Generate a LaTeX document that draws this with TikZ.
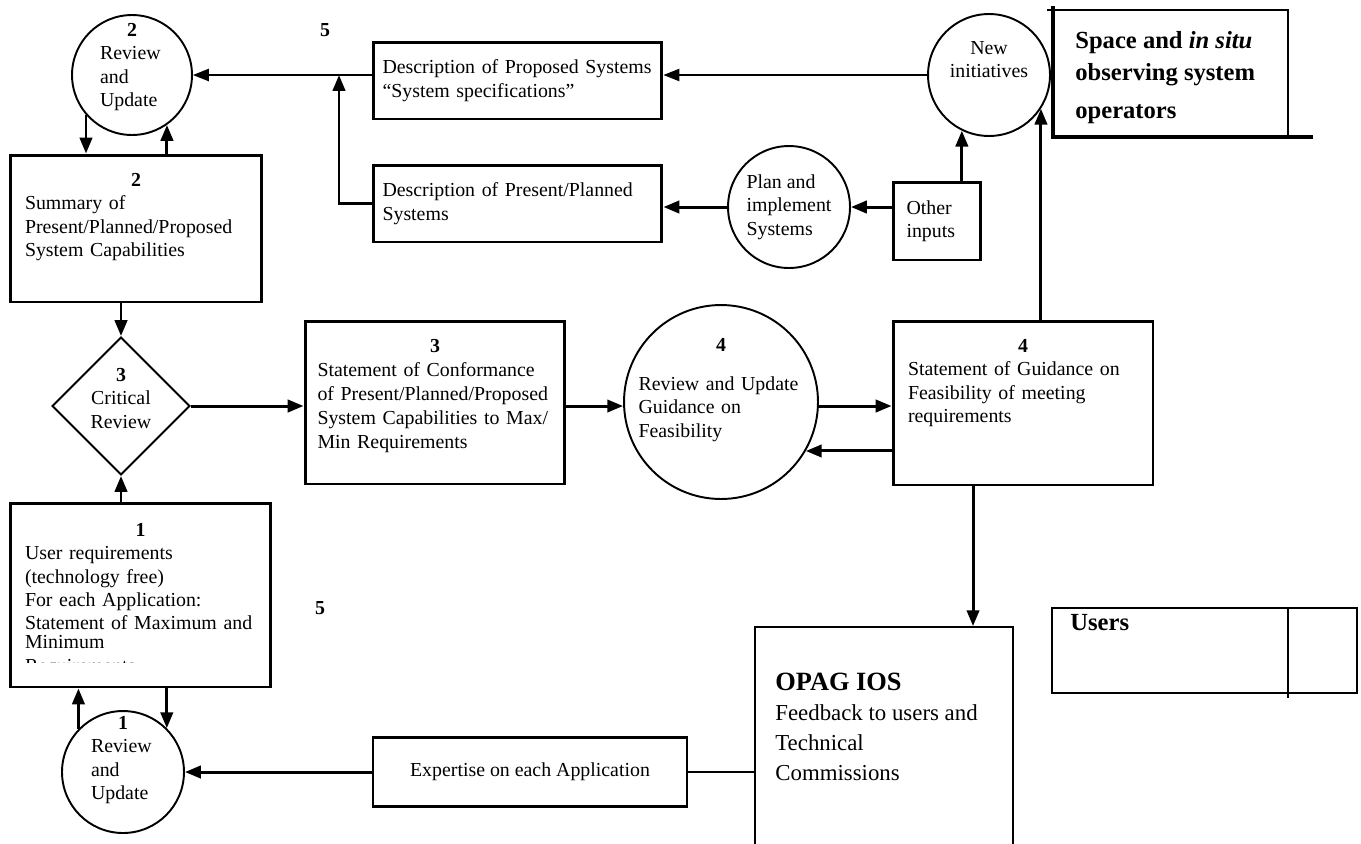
\documentclass[tikz,border=0pt]{standalone}
\usepackage{fontspec}
\setmainfont{Liberation Serif}
\usepackage{tikz}
\usetikzlibrary{shapes.geometric,arrows.meta,positioning,calc}
\newcommand{\numrow}[2][0pt]{\hfill\textbf{#2}\hfill\null\\[#1]}

\begin{document}
\begin{tikzpicture}[
    x=0.02cm, y=-0.02cm,
    every node/.style={font=\fontsize{11.3}{13.3}\selectfont},
    box/.style={rectangle, draw=black, line width=1.7pt, inner sep=0pt},
    disc/.style={circle, draw=black, line width=1.1pt, inner sep=0pt, minimum size=2.44cm, align=left},
    diam/.style={diamond, draw=black, line width=1.1pt, inner sep=0pt, aspect=1, align=center},
    txt/.style={inner sep=0pt, align=left},
    num/.style={inner sep=0pt, font=\fontsize{11.3}{13.3}\selectfont\bfseries},
    arrow/.style={-{Triangle[length=9pt,width=7pt]}, line width=1.7pt},
    thinarrow/.style={-{Triangle[length=9pt,width=7pt]}, line width=0.6pt}
]
\useasboundingbox (0,0) rectangle (1361,843);
\clip (0,0) rectangle (1361,843);

\node[disc, minimum size=2.4cm] (rev2) at (132,75) {};
\node[txt, text width=1.28cm, anchor=north] (rev2t) at (132,23) {\numrow{2}Review\\and\\Update};
\node[num] (five1) at (325,30) {5};
\node[box, minimum width=5.78cm, minimum height=1.54cm, text width=5.4cm, align=left] (prop) at (517.5,80.5) {Description of Proposed Systems\\``System specifications''};
\node[box, minimum width=5.78cm, minimum height=1.54cm, text width=5.4cm, align=left] (pres) at (517.5,203.5) {Description of Present/Planned\\Systems};
\node[disc] (plan) at (789,207) {Plan and\\implement\\Systems};
\node[box, minimum width=1.74cm, minimum height=1.56cm, text width=1.2cm, align=left] (other) at (936.5,221) {Other\\inputs};
\node[disc, align=center] (newi) at (989,75) {New\\initiatives\\[4pt]};

\node[txt, anchor=north west, font=\fontsize{14}{21.5}\selectfont\bfseries] (space) at (1075,31) {Space and \textit{in situ}\\[-3.4pt]observing system\\operators};
\draw[line width=2.2pt] (1053,6) -- (1053,137) -- (1313,137);
\draw[line width=0.6pt] (1047,10) -- (1288,10) -- (1288,135);

\node[box, minimum width=5.04cm, minimum height=2.94cm] (sum2) at (136,228.5) {};
\node[txt, text width=4.44cm, anchor=north] (sum2t) at (136,173) {\numrow{2}Summary of\\Present/Planned/Proposed\\System Capabilities};

\node[diam, minimum width=2.76cm, minimum height=2.76cm] (crit) at (121,406) {};
\node[txt, align=center, anchor=north] (critt) at (121,368) {\textbf{3}\\Critical\\Review};
\node[box, minimum width=5.2cm, minimum height=3.26cm] (conf3) at (435,402.5) {};
\node[txt, text width=4.7cm, anchor=north, font=\fontsize{11.3}{13.6}\selectfont] (conf3t) at (435,339) {\numrow{3}Statement of Conformance\\of Present/Planned/Proposed\\System Capabilities to Max/\\Min Requirements};
\node[disc, minimum size=3.88cm] (feas4) at (721,402) {};
\node[txt, text width=3.3cm, anchor=north] (feas4t) at (721,338) {\numrow[9pt]{4}Review and Update\\Guidance on\\Feasibility};
\node[box, minimum width=5.2cm, minimum height=3.28cm] (stmt4) at (1023,403) {};
\node[txt, text width=4.6cm, anchor=north] (stmt4t) at (1023,339) {\numrow{4}Statement of Guidance on\\Feasibility of meeting\\requirements};

\node[box, minimum width=5.22cm, minimum height=3.68cm] (ureq1) at (140.5,595) {};
\begin{scope}
\clip (10,503) rectangle (271,662);
\node[txt, text width=4.62cm, anchor=north] (ureq1t) at (140.5,523) {\numrow{1}User requirements\\(technology free)\\For each Application:\\Statement of Maximum and\\[-2.5pt]Minimum\\Requirements};
\end{scope}
\node[num] (five2) at (320,608) {5};
\node[disc, minimum size=2.44cm] (rev1) at (123,772) {};
\node[txt, text width=1.28cm, anchor=north] (rev1t) at (123,716) {\numrow{1}Review\\and\\Update};
\node[box, line width=1.5pt, minimum width=6.28cm, minimum height=1.38cm] (expert) at (530,772) {Expertise on each Application};

\node[box, line width=1.1pt, minimum width=5.16cm, minimum height=5.5cm] (opag) at (884,764.5) {};
\node[txt, anchor=north west, font=\fontsize{13}{17}\selectfont] (opagt) at (775,673) {{\fontsize{15}{17}\selectfont\bfseries OPAG IOS}\\Feedback to users and\\Technical\\Commissions};
\node[rectangle, draw=black, line width=1.1pt, minimum width=6.1cm, minimum height=1.7cm] (users) at (1204.5,650.5) {};
\node[txt, anchor=north west, font=\fontsize{14}{16}\selectfont\bfseries] (userst) at (1070,614) {Users};
\coordinate (ucol) at (1288,608);
\draw[line width=0.8pt] (ucol) -- ([yshift=-0.08cm]ucol |- users.south);

\coordinate (j5) at (339,75);
\coordinate (drop) at ([xshift=-1cm]stmt4.south);
\draw[thinarrow] (newi.west) -- (newi.west -| prop.east);
\draw[thinarrow] (prop.west |- rev2.east) -- (rev2.east);
\draw[arrow] (pres.west) -| (j5);
\draw[arrow] (plan.west) -- (plan.west -| pres.east);
\draw[arrow] (other.west |- plan.east) -- (plan.east);
\draw[arrow] (other.north -| newi.244) -- (newi.244);
\draw[arrow] (stmt4.north -| newi.327) -- (newi.327);
\draw[arrow] (rev2.221) -- (rev2.221 |- sum2.north);
\draw[arrow] (sum2.north -| rev2.305) -- (rev2.305);
\draw[arrow] (sum2.south -| crit.north) -- (crit.north);
\draw[arrow] (ureq1.north -| crit.south) -- (crit.south);
\draw[arrow] (crit.east) -- (crit.east -| conf3.west);
\draw[arrow] (conf3.east |- crit.east) -- (feas4.west |- crit.east);
\draw[arrow] (feas4.east |- crit.east) -- (stmt4.west |- crit.east);
\draw[arrow] (stmt4.west |- feas4.330) -- (feas4.330);
\draw[arrow] (drop) -- (drop |- opag.north);
\draw[arrow] (ureq1.south -| rev1.45) -- (rev1.45);
\draw[arrow] (rev1.136) -- (rev1.136 |- ureq1.south);
\draw[arrow] (expert.west) -- (rev1.east);
\draw[line width=0.6pt] (expert.east) -- (expert.east -| opag.west);

\end{tikzpicture}
\end{document}
